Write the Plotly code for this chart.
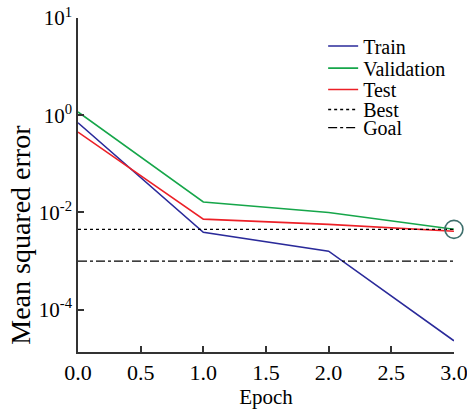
import plotly.graph_objects as go

epochs = [0, 1, 2, 3]
train = [0.70, 0.0039, 0.0016, 2.3e-5]
validation = [1.17, 0.0164, 0.010, 0.0045]
test = [0.45, 0.0073, 0.0057, 0.0041]
best_value = 0.0045
best_epoch = 3
goal_value = 0.001
x_ticks = [0, 0.5, 1.0, 1.5, 2.0, 2.5, 3.0]
x_ticktext = ["0.0", "0.5", "1.0", "1.5", "2.0", "2.5", "3.0"]
y_tickvals = [1e2, 1e0, 1e-2, 1e-4]
y_ticktext = ["10<sup>1</sup>", "10<sup>0</sup>", "10<sup>-2</sup>", "10<sup>-4</sup>"]

FONT = "Liberation Serif, Times New Roman, serif"

fig = go.Figure()
fig.add_trace(go.Scatter(x=epochs, y=train, mode="lines", name="Train", legend="legend",
                         line=dict(color="#2a2a9a", width=1.6)))
fig.add_trace(go.Scatter(x=epochs, y=validation, mode="lines", name="Validation", legend="legend2",
                         line=dict(color="#16a64a", width=1.6)))
fig.add_trace(go.Scatter(x=epochs, y=test, mode="lines", name="Test", legend="legend3",
                         line=dict(color="#ec2027", width=1.6)))
fig.add_trace(go.Scatter(x=[epochs[0], epochs[-1]], y=[best_value, best_value], mode="lines",
                         name="Best", legend="legend4",
                         line=dict(color="black", width=1.3, dash="dot")))
fig.add_trace(go.Scatter(x=[epochs[0], epochs[-1]], y=[goal_value, goal_value], mode="lines",
                         name="Goal", legend="legend5",
                         line=dict(color="black", width=1.3, dash="dashdot")))
fig.add_trace(go.Scatter(x=[best_epoch], y=[best_value], mode="markers", showlegend=False,
                         cliponaxis=False,
                         marker=dict(symbol="circle-open", size=18,
                                     line=dict(color="#3e6f6c", width=1.6), color="#3e6f6c")))

def leg(y):
    return dict(x=0.652, y=y, xanchor="left", yanchor="middle",
                bgcolor="rgba(0,0,0,0)", font=dict(family=FONT, size=20, color="black"),
                itemwidth=30)

fig.update_layout(
    width=467, height=411,
    margin=dict(l=78, r=13, t=18, b=59),
    paper_bgcolor="white", plot_bgcolor="white",
    font=dict(family=FONT, size=20, color="black"),
    legend=leg(0.916), legend2=leg(0.850), legend3=leg(0.786),
    legend4=leg(0.726), legend5=leg(0.672),
    showlegend=True,
    annotations=[dict(text="Mean squared error", textangle=-90, xref="paper", yref="paper",
                      x=-0.155, y=(352 - 235) / 334, xanchor="center", yanchor="middle",
                      showarrow=False, font=dict(family=FONT, size=28, color="black"))],
)
fig.update_xaxes(range=[0, 3.0005], tickvals=x_ticks, ticktext=x_ticktext,
                 showline=True, linecolor="#333", linewidth=1.5,
                 ticks="inside", ticklen=6, tickcolor="#333", tickwidth=1.5,
                 showgrid=False, zeroline=False, automargin=False,
                 ticklabeloverflow="allow",
                 title=dict(text="Epoch", standoff=2, font=dict(family=FONT, size=21)),
                 tickfont=dict(family=FONT, size=22))
fig.update_yaxes(type="log", range=[-4.87, 2], tickvals=y_tickvals, ticktext=y_ticktext,
                 showline=True, linecolor="#333", linewidth=1.5,
                 ticks="inside", ticklen=6, tickcolor="#333", tickwidth=1.5,
                 showgrid=False, zeroline=False, automargin=False,
                 tickfont=dict(family=FONT, size=21))

fig.write_html("out.html", config={"displayModeBar": False},
               post_script="document.body.style.margin='0';")
